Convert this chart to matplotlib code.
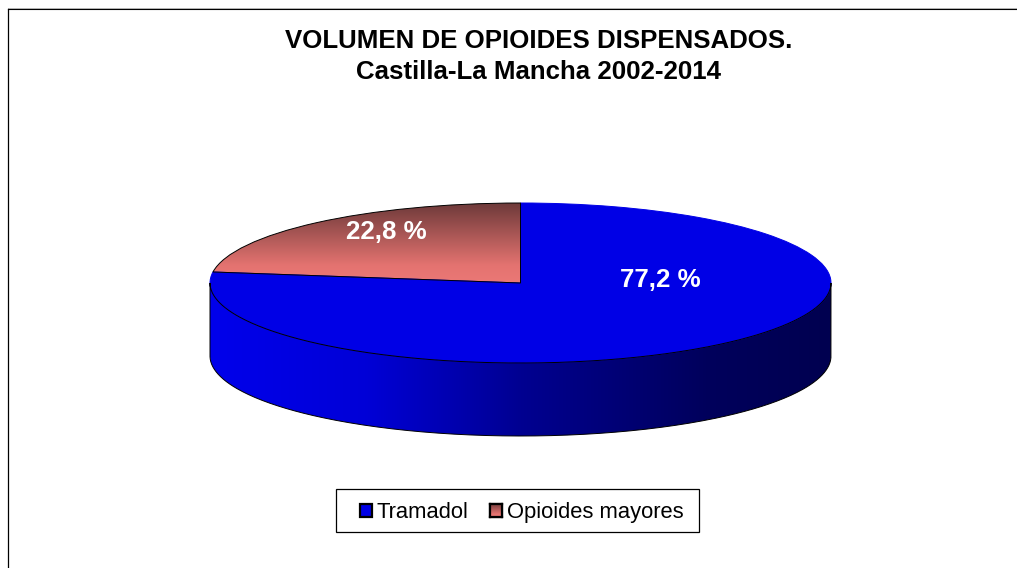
import numpy as np
import matplotlib
matplotlib.use("Agg")
import matplotlib.pyplot as plt
from matplotlib.colors import LinearSegmentedColormap
from matplotlib.lines import Line2D
from matplotlib.patches import PathPatch, Rectangle, Patch
from matplotlib.path import Path

plt.rcParams['font.family'] = ['Liberation Sans', 'DejaVu Sans']

categories = ["Tramadol", "Opioides mayores"]
values = [77.2, 22.8]
title_lines = ["VOLUMEN DE OPIOIDES DISPENSADOS.", "Castilla-La Mancha 2002-2014"]

W, H = 1017, 568
BLUE = (0, 0, 230 / 255)
fig = plt.figure(figsize=(W / 100, H / 100), dpi=100, facecolor='white')

# Chart frame: only the top and left lines are visible
fig.add_artist(Line2D([7.5 / W, W / W], [1 - 8.5 / H] * 2, color='black', lw=0.8))
fig.add_artist(Line2D([7.5 / W, W / W], [1 - 7.5 / H] * 2, color='#b0b0b0', lw=0.7))
fig.add_artist(Line2D([7.5 / W, 7.5 / W], [1 - 8.5 / H, 0], color='black', lw=0.9))

# Axes in which the pie's unit circle becomes the flattened ellipse
cx, cy, rx, ry, depth_px = 520.5, 283.0, 310.5, 80.0, 73.0
x0, x1, ytop, ybot = 195.0, 845.0, 190.0, 445.0
ax = fig.add_axes([x0 / W, 1 - ybot / H, (x1 - x0) / W, (ybot - ytop) / H])

wedges, _ = ax.pie(values, startangle=90, counterclock=False, colors=[BLUE, 'none'],
                   wedgeprops=dict(edgecolor='black', linewidth=0.7, zorder=4))
wedges[0].set_edgecolor(BLUE)
wedges[1].set_zorder(5)
depth = depth_px / ry

# Side wall (front half of the ellipse)
th = np.linspace(np.pi, 2 * np.pi, 300)
xs = np.cos(th)
ys = np.sin(th)
verts = np.r_[np.c_[xs, ys], np.c_[xs[::-1], ys[::-1] - depth], [[xs[0], ys[0]]]]
side = PathPatch(Path(verts), facecolor='none', edgecolor='black', lw=0.7, zorder=5)
ax.add_patch(side)
side_cmap = LinearSegmentedColormap.from_list('side', [
    (0.00, (0, 0, 235 / 255)), (0.25, (0, 0, 215 / 255)), (0.50, (0, 0, 145 / 255)),
    (0.80, (0, 0, 92 / 255)), (1.00, (0, 0, 80 / 255))])
im = ax.imshow(np.linspace(0, 1, 256)[None, :], cmap=side_cmap, aspect='auto',
               extent=(-1, 1, -1 - depth, 0), zorder=2, interpolation='bilinear')
im.set_clip_path(side)

# Vertical gradient of the second slice
red_cmap = LinearSegmentedColormap.from_list('red', [
    (0.00, (235 / 255, 120 / 255, 118 / 255)), (0.22, (228 / 255, 115 / 255, 112 / 255)),
    (1.00, (110 / 255, 58 / 255, 58 / 255))])
imr = ax.imshow(np.linspace(1, 0, 256)[:, None], cmap=red_cmap, aspect='auto',
                extent=(-1, 0, 0, 1), zorder=2, interpolation='bilinear')
imr.set_clip_path(wedges[1])

ax.set_aspect('auto')
ax.set_xlim((x0 - cx) / rx, (x1 - cx) / rx)
ax.set_ylim((cy - ybot) / ry, (cy - ytop) / ry)
ax.axis('off')

# Data labels
label_pos = [(0.449, 0.04), (-0.432, 0.64)]
for v, (lx, ly) in zip(values, label_pos):
    ax.text(lx, ly, f"{v:.1f} %".replace('.', ','), color='white', fontsize=18.6,
            fontweight='bold', ha='center', va='center', zorder=6)

# Title
for line, y in zip(title_lines, (41, 72)):
    fig.text(538.5 / W, 1 - y / H, line, fontsize=18.6, fontweight='bold',
             ha='center', va='center', color='black')

# Legend
fig.add_artist(Rectangle((335.5 / W, 1 - 531.5 / H), 363 / W, 43 / H, transform=fig.transFigure,
                         facecolor='white', edgecolor='black', lw=0.9))
handles = [Patch(facecolor=BLUE, edgecolor='black', lw=1.6),
           Patch(facecolor='#e47370', edgecolor='black', lw=1.6)]
leg = fig.legend(handles, categories, loc='center', bbox_to_anchor=(521.5 / W, 1 - 512.5 / H),
                 frameon=False, ncol=2, fontsize=15.85, handlelength=0.56, handleheight=0.55,
                 handletextpad=0.2, columnspacing=1.0, borderpad=0, labelspacing=0)
fig.canvas.draw()
r = fig.canvas.get_renderer()
bb = leg.legend_handles[1].get_window_extent(r)
lax = fig.add_axes([bb.x0 / W, bb.y0 / H, bb.width / W, bb.height / H], zorder=20)
lax.imshow(np.linspace(1, 0, 64)[:, None], cmap=red_cmap, aspect='auto', interpolation='bilinear')
lax.set_xticks([])
lax.set_yticks([])
for s in lax.spines.values():
    s.set_linewidth(1.6)

fig.savefig('out.png', dpi=100, facecolor='white')
